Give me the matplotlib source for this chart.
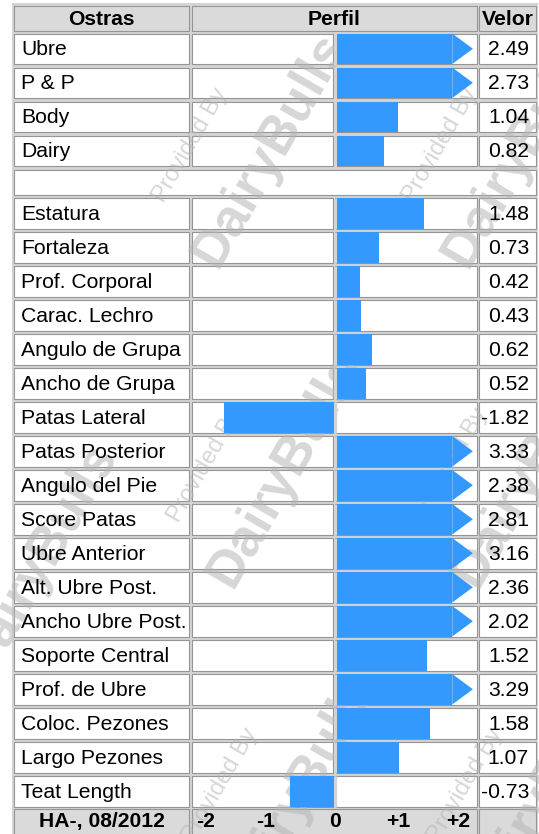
import numpy as np
import matplotlib.pyplot as plt
from matplotlib.patches import Rectangle, Polygon

plt.rcParams['font.family'] = ['Liberation Sans', 'DejaVu Sans']

labels_top = ["Ubre", "P & P", "Body", "Dairy"]
values_top = [2.49, 2.73, 1.04, 0.82]

labels_lin = ["Estatura", "Fortaleza", "Prof. Corporal", "Carac. Lechro",
              "Angulo de Grupa", "Ancho de Grupa", "Patas Lateral",
              "Patas Posterior", "Angulo del Pie", "Score Patas",
              "Ubre Anterior", "Alt. Ubre Post.", "Ancho Ubre Post.",
              "Soporte Central", "Prof. de Ubre", "Coloc. Pezones",
              "Largo Pezones", "Teat Length"]
values_lin = [1.48, 0.73, 0.42, 0.43, 0.62, 0.52, -1.82, 3.33, 2.38, 2.81,
              3.16, 2.36, 2.02, 1.52, 3.29, 1.58, 1.07, -0.73]

headers = ["Ostras", "Perfil", "Velor"]
footer_label = "HA-, 08/2012"
tick_vals = [-2, -1, 0, 1, 2]
tick_labels = ["-2", "-1", "0", "+1", "+2"]

W, H = 539, 834
BLUE = '#3399ff'
BG = '#d4d4d4'
EDGE = '#959595'
HEAD = '#dadada'
FS = 15.2

fig = plt.figure(figsize=(W / 100, H / 100), dpi=100)
ax = fig.add_axes([0, 0, 1, 1])
ax.set_xlim(0, W)
ax.set_ylim(H, 0)
ax.axis('off')

col_lab = (14, 189)
col_neg = (192, 333)
col_pos = (336, 477)
col_val = (479, 536)


def cell(x0, x1, top, h, fc='white'):
    ax.add_patch(Rectangle((x0, top), x1 - x0, h, facecolor=fc,
                           edgecolor=EDGE, lw=0.8, zorder=1))


# row layout
rows = []
for i, (l, v) in enumerate(zip(labels_top, values_top)):
    rows.append((l, v, 33.5 + i * 34, 30.5))
gap_top = 169.5
for k, (l, v) in enumerate(zip(labels_lin, values_lin)):
    rows.append((l, v, 198 + k * 34, 30.5))
head_top, head_h = 6, 25
foot_top, foot_h = 809, 27

# table background
ax.add_patch(Rectangle((12, 3), 526, 834, facecolor=BG, edgecolor='none', zorder=0))

# header
cell(col_lab[0], col_lab[1], head_top, head_h, HEAD)
cell(col_neg[0], col_pos[1], head_top, head_h, HEAD)
cell(col_val[0], col_val[1], head_top, head_h, HEAD)
hy = head_top + head_h / 2 + 1
ax.text(sum(col_lab) / 2, hy, headers[0], ha='center', va='center', fontsize=FS, fontweight='bold', zorder=4)
ax.text((col_neg[0] + col_pos[1]) / 2, hy, headers[1], ha='center', va='center', fontsize=FS, fontweight='bold', zorder=4)
ax.text(sum(col_val) / 2, hy, headers[2], ha='center', va='center', fontsize=FS, fontweight='bold', zorder=4)

# data rows
for l, v, top, h in rows:
    cell(col_lab[0], col_lab[1], top, h)
    cell(col_neg[0], col_neg[1], top, h)
    cell(col_pos[0], col_pos[1], top, h)
    cell(col_val[0], col_val[1], top, h)
    my = top + h / 2 + 1
    ax.text(col_lab[0] + 7, my, l, ha='left', va='center', fontsize=FS, zorder=4)
    ax.text(col_val[1] - 7, my, f"{v:.2f}", ha='right', va='center', fontsize=FS, zorder=4)

# empty separator row
cell(col_lab[0], col_val[1], gap_top, 25)

# footer
cell(col_lab[0], col_lab[1], foot_top, foot_h, HEAD)
cell(col_neg[0], col_pos[1], foot_top, foot_h, HEAD)
cell(col_val[0], col_val[1], foot_top, foot_h, HEAD)
fy = foot_top + foot_h / 2 - 1
ax.text(sum(col_lab) / 2, fy, footer_label, ha='center', va='center', fontsize=FS, fontweight='bold', zorder=4)

# watermark
wm_spots = [(270, 150), (285, 470), (520, 150), (530, 470), (300, 790), (545, 790), (40, 560)]
for cx, cy in wm_spots:
    ax.text(cx, cy, "DairyBulls", rotation=60, rotation_mode='anchor',
            ha='center', va='center', fontsize=38, fontweight='bold',
            color='#b5b5b5', alpha=0.55, zorder=2)
    ax.text(cx - 80, cy - 5, "Provided By", rotation=60, rotation_mode='anchor',
            ha='center', va='center', fontsize=17,
            color='#b5b5b5', alpha=0.55, zorder=2)

# profile bars on a value scale
zero_px, ppu = 334.5, 60.7
bx = fig.add_axes([col_neg[0] / W, 0, (col_pos[1] - col_neg[0]) / W, 1])
bx.set_xlim((col_neg[0] - zero_px) / ppu, (col_pos[1] - zero_px) / ppu)
bx.set_ylim(H, 0)
bx.axis('off')
bx.patch.set_alpha(0)

cap, tip = 1.94, 2.28
for l, v, top, h in rows:
    mid = top + h / 2
    bx.barh(mid, min(v, cap), height=h, color=BLUE, zorder=2)
    if v > 2:
        bx.add_patch(Polygon([(cap, top), (tip, mid), (cap, top + h)],
                             closed=True, facecolor=BLUE, edgecolor='none', zorder=2))
    bx.vlines(0, top - 0.5, top + h + 0.5, color=BG, lw=2.2, zorder=3)

tick_nudge = [-0.12, -0.13, 0, 0.05, 0.03]
for tv, tl, dn in zip(tick_vals, tick_labels, tick_nudge):
    bx.text(tv + dn, fy, tl, ha='center', va='center', fontsize=FS,
            fontweight='bold', zorder=4)

fig.savefig('out.png', dpi=100)
